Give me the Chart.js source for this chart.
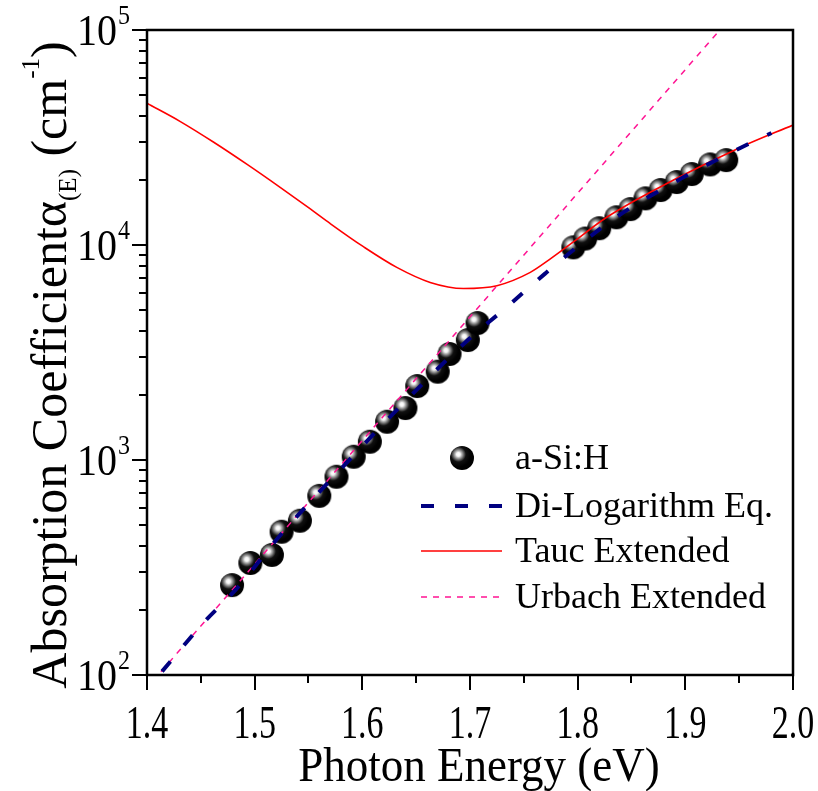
<!DOCTYPE html>
<html><head><meta charset="utf-8">
<script src="https://cdn.jsdelivr.net/npm/chart.js@4.4.0/dist/chart.umd.min.js"></script>
<style>html,body{margin:0;padding:0;background:#fff;}#wrap{width:818px;height:791px;}</style>
</head><body><div id="wrap"><canvas id="c" width="818" height="791"></canvas></div>
<script>
// ---- data ----
const energy = [1.479,1.496,1.516,1.525,1.542,1.560,1.576,1.592,1.607,1.623,1.640,1.651,1.670,1.681,1.698,1.707,
                1.796,1.807,1.820,1.836,1.849,1.863,1.877,1.892,1.906,1.923,1.938];
const alphaMeasured = [262,332,362,464,522,681,836,1036,1216,1507,1745,2208,2575,3113,3614,4335,
                       9750,10720,11970,13460,14690,16480,18020,19630,21380,23710,24820];
const taucE = [1.400,1.431,1.462,1.493,1.524,1.552,1.570,1.601,1.632,1.663,1.694,1.725,1.756,1.774,1.796,1.827,1.889,1.951,2.000];
const taucAlpha = [45600,37500,30050,23700,18490,14680,12600,9820,7870,6700,6280,6470,7460,8570,10330,13460,20050,28440,36140];
const urbachE = [1.413,1.932];
const urbachAlpha = [103.6,100000];
const dilogE = [1.414,1.453,1.482,1.524,1.579,1.638,1.698,1.731,1.770,1.796,1.836,1.892,1.951,1.980];
const dilogAlpha = [104,176,248,448,897,1836,3614,4990,7380,9480,13490,19860,28250,33200];
const xTickValues = [1.4,1.5,1.6,1.7,1.8,1.9,2.0];
const xTickLabels = ['1.4','1.5','1.6','1.7','1.8','1.9','2.0'];
const yTickExponents = [2,3,4,5];
const seriesNames = ['a-Si:H','Di-Logarithm Eq.','Tauc Extended','Urbach Extended'];
const xTitle = 'Photon Energy (eV)';

const SERIF = '"Liberation Serif","Times New Roman",serif';

function makeBall(r){
  const s = Math.ceil(2*r+2);
  const c = document.createElement('canvas'); c.width=s; c.height=s;
  const g = c.getContext('2d');
  const cx=s/2, cy=s/2, hx=cx-r*0.3, hy=cy-r*0.3;
  const grad = g.createRadialGradient(hx,hy,0,hx,hy,r*1.05);
  grad.addColorStop(0,'#ffffff');
  grad.addColorStop(0.15,'#f6f6f6');
  grad.addColorStop(0.27,'#b4b4b4');
  grad.addColorStop(0.44,'#5e5e5e');
  grad.addColorStop(0.60,'#101010');
  grad.addColorStop(1,'#000000');
  g.fillStyle=grad; g.beginPath(); g.arc(cx,cy,r,0,Math.PI*2); g.fill();
  return c;
}
const ball = makeBall(12);

const pts = (xs,ys)=>xs.map((x,i)=>({x:x,y:ys[i]}));

function stretchedText(ctx, text, x, y, sy){
  ctx.save(); ctx.translate(x,y); ctx.scale(1,sy); ctx.fillText(text,0,0); ctx.restore();
}

const decor = {
  id:'decor',
  afterDraw(chart){
    const ctx = chart.ctx, a = chart.chartArea;
    const xs = chart.scales.x, ys = chart.scales.y;
    ctx.save();
    ctx.strokeStyle='#000'; ctx.fillStyle='#000';
    ctx.lineWidth=2;
    for(let k=0;k<=12;k++){
      const v = 1.4 + k*0.05;
      const px = Math.round(xs.getPixelForValue(v));
      const len = (k%2===0)?15:8;
      ctx.beginPath(); ctx.moveTo(px,a.bottom); ctx.lineTo(px,a.bottom+len); ctx.stroke();
    }
    for(let e=2;e<=5;e++){
      for(let m=1;m<=9;m++){
        const v = m*Math.pow(10,e);
        if(v>100000) break;
        const py = Math.round(ys.getPixelForValue(v));
        const len = (m===1)?15:8;
        ctx.beginPath(); ctx.moveTo(a.left,py); ctx.lineTo(a.left-len,py); ctx.stroke();
      }
    }
    ctx.lineWidth=2.5;
    ctx.strokeRect(a.left,a.top,a.right-a.left,a.bottom-a.top);
    // x tick labels
    ctx.font='34px '+SERIF; ctx.textAlign='center'; ctx.textBaseline='alphabetic';
    xTickValues.forEach((v,i)=>{
      stretchedText(ctx, xTickLabels[i], xs.getPixelForValue(v), a.bottom+63, 1.35);
    });
    // y tick labels
    yTickExponents.forEach(e=>{
      const py = ys.getPixelForValue(Math.pow(10,e));
      ctx.font='40px '+SERIF; ctx.textAlign='right';
      stretchedText(ctx,'10', 117, py+15, 1.1);
      ctx.font='24px '+SERIF; ctx.textAlign='left';
      stretchedText(ctx,String(e), 118, py-6, 1.1);
    });
    // x title
    ctx.font='45px '+SERIF; ctx.textAlign='center';
    stretchedText(ctx, xTitle, 479, 781, 1.1);
    // y title (rotated) with sub/superscript
    const parts = [
      {t:'Absorption Coefficient\u03b1', s:50, dy:0},
      {t:'(E)', s:25, dy:10},
      {t:' (cm', s:50, dy:0},
      {t:'-1', s:25, dy:-27},
      {t:')', s:50, dy:0}
    ];
    let total=0;
    parts.forEach(p=>{ctx.font=p.s+'px '+SERIF; p.w=ctx.measureText(p.t).width; total+=p.w;});
    ctx.translate(66, 365); ctx.rotate(-Math.PI/2);
    let cx=-total/2; ctx.textAlign='left';
    parts.forEach(p=>{ctx.font=p.s+'px '+SERIF; ctx.fillText(p.t,cx,p.dy); cx+=p.w;});
    ctx.setTransform(1,0,0,1,0,0);
    // legend
    const ds = chart.data.datasets;
    const rows=[458,506,551,597];
    const lx0=421, lx1=502, tx=515;
    ctx.font='36px '+SERIF; ctx.textAlign='left'; ctx.textBaseline='middle';
    rows.forEach((ry,i)=>{
      const d = ds[i];
      if(i===0){
        ctx.drawImage(ball, 462-ball.width/2, ry-ball.height/2);
      } else {
        ctx.save();
        ctx.strokeStyle=d.borderColor; ctx.lineWidth=d.borderWidth;
        ctx.setLineDash(d.borderDash||[]);
        ctx.beginPath(); ctx.moveTo(lx0,ry); ctx.lineTo(lx1,ry); ctx.stroke();
        ctx.restore();
      }
      ctx.fillStyle='#000';
      ctx.fillText(d.label, tx, ry+2);
    });
    ctx.restore();
  }
};

new Chart(document.getElementById('c').getContext('2d'),{
  type:'scatter',
  data:{datasets:[
    {label:seriesNames[0], data:pts(energy,alphaMeasured), pointStyle:ball, pointRadius:12, showLine:false, order:4},
    {label:seriesNames[1], data:pts(dilogE,dilogAlpha), showLine:true, borderColor:'#000080', borderWidth:4, borderDash:[13,21], pointRadius:0, cubicInterpolationMode:'monotone', order:1},
    {label:seriesNames[2], data:pts(taucE,taucAlpha), showLine:true, borderColor:'#ff0000', borderWidth:1.6, pointRadius:0, cubicInterpolationMode:'monotone', order:2},
    {label:seriesNames[3], data:pts(urbachE,urbachAlpha), showLine:true, borderColor:'#ff1493', borderWidth:1.5, borderDash:[6,6], pointRadius:0, order:3}
  ]},
  options:{
    responsive:false, animation:false, devicePixelRatio:1,
    layout:{padding:{left:147,right:25,top:30,bottom:116}},
    plugins:{legend:{display:false}, tooltip:{enabled:false}},
    scales:{
      x:{type:'linear', min:1.4, max:2.0, display:false},
      y:{type:'logarithmic', min:100, max:100000, display:false}
    }
  },
  plugins:[decor]
});
</script></body></html>
